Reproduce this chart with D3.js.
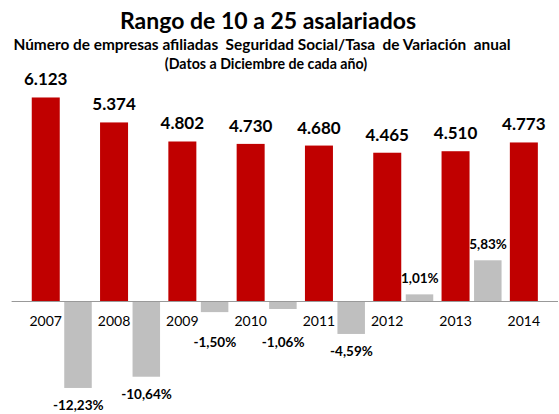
<!DOCTYPE html>
<html>
<head>
<meta charset="utf-8">
<script src="https://cdn.jsdelivr.net/npm/d3@7/dist/d3.min.js"></script>
<style>
  html, body { margin: 0; padding: 0; background: #fff; }
  svg { display: block; font-family: Lato, "Liberation Sans", sans-serif; }
  text { white-space: pre; }
</style>
</head>
<body>
<svg id="chart" width="559" height="414"></svg>
<script>
// Años y número de empresas afiliadas (10 a 25 asalariados)
const years = ["2007", "2008", "2009", "2010", "2011", "2012", "2013", "2014"];
const empresas = [6123, 5374, 4802, 4730, 4680, 4465, 4510, 4773];
// Tasa de variación anual (%), situada entre cada par de años consecutivos
const variacion = [-12.23, -10.64, -1.50, -1.06, -4.59, 1.01, 5.83];

const titulo = "Rango de 10 a 25 asalariados";
const subtitulo = "Número de empresas afiliadas  Seguridad Social/Tasa  de Variación  anual";
const nota = "(Datos a Diciembre de cada año)";

const svg = d3.select("#chart");

const esLocale = d3.formatLocale({
  decimal: ",", thousands: ".", grouping: [3], currency: ["", " €"], minus: "-"
});
const fmtNum = esLocale.format(",d");
const fmtPct = v => esLocale.format(".2f")(v) + "%";

const axisY = 301.5;
const x = d3.scaleBand().domain(years).range([11.6, 558]).paddingInner(0).paddingOuter(0);
const yEmp = d3.scaleLinear().domain([0, 7000]).range([axisY, axisY - 7000 * 0.03332]);
const yVar = d3.scaleLinear().domain([-15, 10]).range([axisY + 15 * 7.07, axisY - 10 * 7.07]);

const barW = 28;
const cx = d => x(d) + x.bandwidth() / 2;
const grayOffset = 32.5;

// Títulos
svg.append("text").attr("x", 268).attr("y", 29).attr("text-anchor", "middle")
  .attr("font-size", 23).attr("font-weight", 700).attr("fill", "#000").text(titulo);
svg.append("text").attr("x", 262).attr("y", 50).attr("text-anchor", "middle")
  .attr("font-size", 15.4).attr("font-weight", 700).attr("fill", "#000").text(subtitulo);
svg.append("text").attr("x", 266).attr("y", 69).attr("text-anchor", "middle")
  .attr("font-size", 14.2).attr("font-weight", 700).attr("fill", "#000").text(nota);

// Barras de empresas
svg.append("g").selectAll("rect").data(years).join("rect")
  .attr("x", d => cx(d) - barW / 2)
  .attr("width", barW)
  .attr("y", (d, i) => yEmp(empresas[i]))
  .attr("height", (d, i) => yEmp(0) - yEmp(empresas[i]))
  .attr("fill", "#C00000");

// Barras de variación
const varYears = years.slice(0, variacion.length);
svg.append("g").selectAll("rect").data(variacion).join("rect")
  .attr("x", (v, i) => cx(varYears[i]) + grayOffset - barW / 2)
  .attr("width", barW - 0.5)
  .attr("y", v => yVar(Math.max(0, v)))
  .attr("height", v => Math.abs(yVar(v) - yVar(0)))
  .attr("fill", "#BFBFBF");

// Eje horizontal
svg.append("line").attr("x1", 11.6).attr("x2", 558).attr("y1", axisY).attr("y2", axisY)
  .attr("stroke", "#999").attr("stroke-width", 1.2);

// Etiquetas de años
svg.append("g").selectAll("text").data(years).join("text")
  .attr("x", d => cx(d)).attr("y", 326).attr("text-anchor", "middle")
  .attr("font-size", 14).attr("fill", "#000").text(d => d);

// Valores de empresas
svg.append("g").selectAll("text").data(years).join("text")
  .attr("x", d => cx(d)).attr("y", (d, i) => yEmp(empresas[i]) - 12)
  .attr("text-anchor", "middle").attr("font-size", 17).attr("font-weight", 700)
  .attr("fill", "#000").text((d, i) => fmtNum(empresas[i]));

// Valores de variación
svg.append("g").selectAll("text").data(variacion).join("text")
  .attr("x", (v, i) => cx(varYears[i]) + grayOffset)
  .attr("y", v => v >= 0 ? yVar(v) - 11 : Math.max(yVar(v) + 22, axisY + 45))
  .attr("text-anchor", "middle").attr("font-size", 13.5).attr("font-weight", 700)
  .attr("fill", "#000").text(v => fmtPct(v));
</script>
</body>
</html>
